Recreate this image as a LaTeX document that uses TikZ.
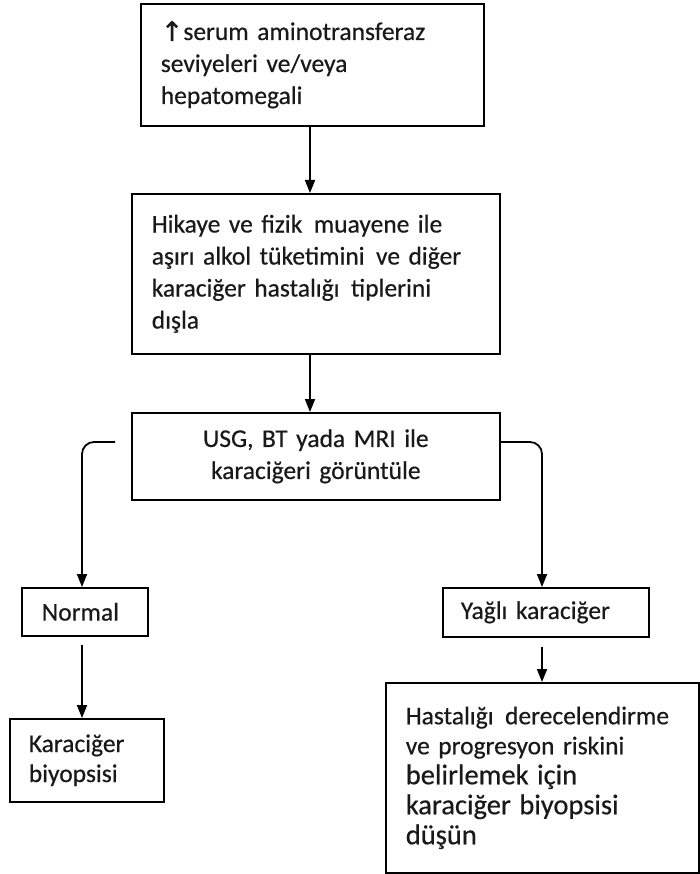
\documentclass[tikz,border=0pt]{standalone}
\usepackage{fontspec}
\setmainfont{Carlito}[FakeBold=0.5]
\newfontfamily\symfont{DejaVu Sans}[FakeBold=0.5]
\usetikzlibrary{arrows.meta,calc}
\begin{document}
\begin{tikzpicture}[x={(1pt,0pt)},y={(0pt,-1pt)},
  box/.style={draw=black, line width=1.6pt, anchor=north west, inner xsep=20pt, inner ysep=0pt,
    align=left, font=\fontsize{25.5}{32}\selectfont, text=black!90},
  lowbox/.style={box, font=\fontsize{25.5}{30}\selectfont},
  arr/.style={line width=1.8pt, -{Triangle[length=13pt,width=10pt]}},
  ]
\useasboundingbox (0,0) rectangle (699,874);
% boxes
\node[box, minimum width=343pt, minimum height=122pt, text width=303pt] (b1) at (140,3)
  {\raisebox{-1pt}{\symfont\fontsize{27}{32}\selectfont\char"2191}serum aminotransferaz\\seviyeleri ve/veya\\hepatomegali};
\node[box, minimum width=368pt, minimum height=160pt, text width=328pt] (b2) at (131,193)
  {Hikaye ve fizik\hspace{3pt} muayene ile\\aşırı alkol tüketimini\hspace{3pt} ve diğer\\karaciğer hastalığı\hspace{3pt} tiplerini\\dışla};
\node[box, minimum width=368pt, minimum height=87pt, text width=328pt, align=center] (b3) at (131,412)
  {USG, BT yada MRI ile\\karaciğeri görüntüle};
\node[box, minimum width=126pt, minimum height=48pt, text width=86pt] (nrm) at (21,587) {\raisebox{-3pt}{Normal}};
\node[box, minimum width=206pt, minimum height=49pt, text width=170pt, inner xsep=18pt] (yag) at (442,587) {\raisebox{-2pt}{Yağlı karaciğer}};
\node[lowbox, minimum width=154pt, minimum height=83pt, text width=116pt, inner xsep=19pt] (kb) at (9,718)
  {Karaciğer\\biyopsisi};
\node[lowbox, minimum width=313pt, minimum height=190pt, text width=273pt] (big) at (385,682)
  {Hastalığı\hspace{3pt} derecelendirme\\ve progresyon riskini\\{\fontsize{28.5}{30}\selectfont belirlemek için}\\{\fontsize{28.5}{30}\selectfont karaciğer biyopsisi}\\{\fontsize{28.5}{30}\selectfont düşün}};
% connectors
\coordinate (ax) at (310,0);
\coordinate (l0) at (115,442);
\coordinate (lx) at (82,0);
\coordinate (rx) at (542,0);
\coordinate (n1) at ([yshift=-8pt]nrm.south);
\coordinate (y1) at ([yshift=-9pt]yag.south);
\draw[arr] (b1.south -| ax) -- (b2.north -| ax);
\draw[arr] (b2.south -| ax) -- (b3.north -| ax);
\draw[arr, rounded corners=12pt] (l0) -- (l0 -| lx) -- (nrm.north -| lx);
\draw[arr, rounded corners=12pt] (b3.east |- l0) -- (l0 -| rx) -- (yag.north -| rx);
\draw[arr] (n1 -| lx) -- (kb.north -| lx);
\draw[arr] (y1 -| rx) -- (big.north -| rx);
\end{tikzpicture}
\end{document}
